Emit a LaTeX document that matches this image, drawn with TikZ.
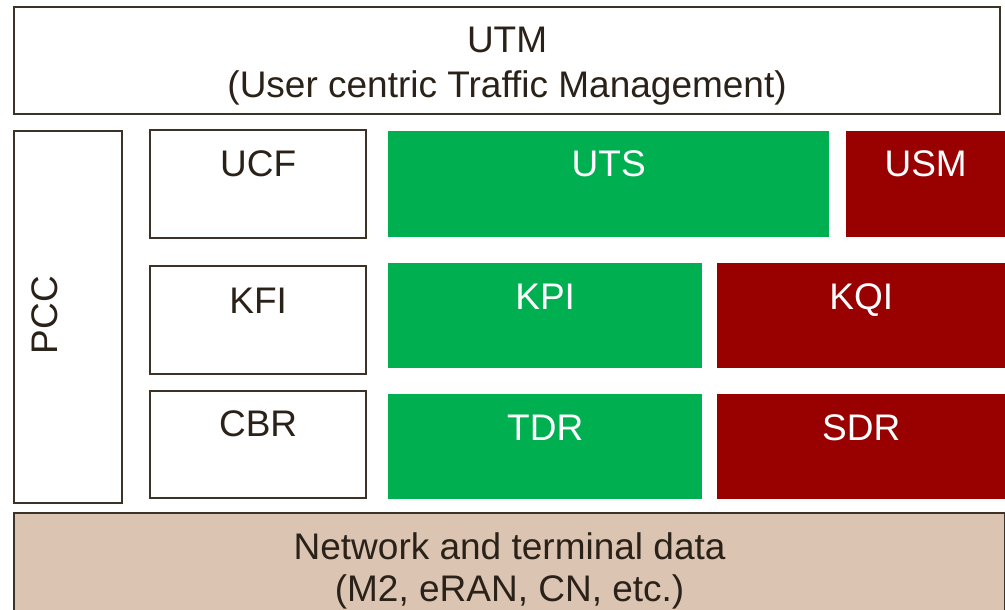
\documentclass[tikz,border=0pt]{standalone}
\usepackage{fontspec}
\setmainfont{Liberation Sans}
\usetikzlibrary{calc}
\definecolor{ink}{HTML}{2A2219}
\definecolor{edge}{HTML}{3C3228}
\definecolor{okgreen}{HTML}{00B050}
\definecolor{darkred}{HTML}{990000}
\definecolor{sand}{HTML}{DCC4B2}
\tikzset{
  frame/.style={draw=edge, line width=2.2pt, rectangle, inner sep=0pt, anchor=north west},
  whitebox/.style={frame, fill=white},
  sandbox/.style={frame, fill=sand},
  greenbox/.style={rectangle, inner sep=0pt, anchor=north west, fill=okgreen},
  redbox/.style={rectangle, inner sep=0pt, anchor=north west, fill=darkred},
  txt/.style={font=\fontsize{37}{44}\selectfont, text=ink, inner sep=0pt, anchor=base},
  wtxt/.style={txt, text=white},
}
\newcommand{\boxat}[6]{% style, name, x1, y1, x2, y2
  \node[#1, minimum width={(#5-#3)*1pt}, minimum height={(#6-#4)*1pt}] (#2) at (#3,#4) {};}
\begin{document}
\begin{tikzpicture}[x=1pt, y=-1pt]
\useasboundingbox (0,0) rectangle (1005,610);
% outer frames
\boxat{whitebox}{utm}{13}{6}{999}{113}
\boxat{whitebox}{pcc}{13}{130}{121}{502}
\boxat{sandbox}{data}{13}{512}{1004}{614}
% left column
\boxat{whitebox}{ucf}{149}{129}{365}{237}
\boxat{whitebox}{kfi}{149}{265}{365}{373}
\boxat{whitebox}{cbr}{149}{390}{365}{497}
% coloured blocks
\boxat{greenbox}{uts}{388}{131}{829}{237}
\boxat{redbox}{usm}{846}{131}{1005}{237}
\boxat{greenbox}{kpi}{388}{263}{702}{368}
\boxat{redbox}{kqi}{717}{263}{1005}{368}
\boxat{greenbox}{tdr}{388}{394}{702}{499}
\boxat{redbox}{sdr}{717}{394}{1005}{499}
% labels
\node[txt] (utmA) at ($(utm.north)+(0,47)$) {UTM};
\node[txt] (utmB) at ($(utm.north)+(0,92)$) {(User centric Traffic Management)};
\node[txt, rotate=90] (pccT) at (57,315) {PCC};
\node[txt] (ucfT) at ($(ucf.north)+(0,47)$) {UCF};
\node[txt] (kfiT) at ($(kfi.north)+(0,48)$) {KFI};
\node[txt] (cbrT) at ($(cbr.north)+(0,46)$) {CBR};
\node[wtxt] (utsT) at ($(uts.north)+(0,45)$) {UTS};
\node[wtxt] (usmT) at ($(usm.north)+(0,45)$) {USM};
\node[wtxt] (kpiT) at ($(kpi.north)+(0,46)$) {KPI};
\node[wtxt] (kqiT) at ($(kqi.north)+(0,46)$) {KQI};
\node[wtxt] (tdrT) at ($(tdr.north)+(0,46)$) {TDR};
\node[wtxt] (sdrT) at ($(sdr.north)+(0,46)$) {SDR};
\node[txt] (dataA) at ($(data.north)+(0,47)$) {Network and terminal data};
\node[txt] (dataB) at ($(data.north)+(0,89)$) {(M2, eRAN, CN, etc.)};
\end{tikzpicture}
\end{document}
